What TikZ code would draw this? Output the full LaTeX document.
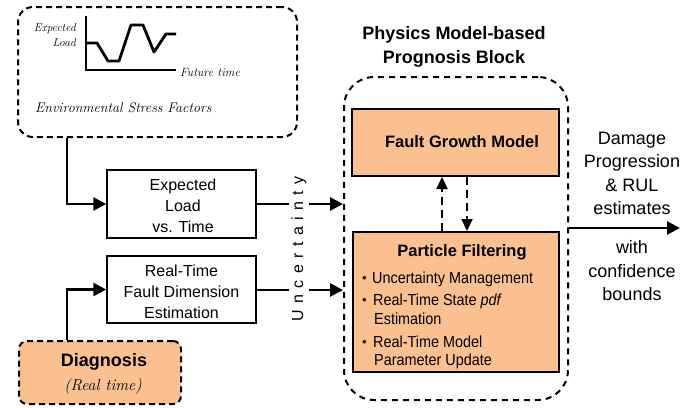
\documentclass[tikz,border=0pt]{standalone}
\usepackage{fontspec}
\setsansfont{Liberation Sans}
\newfontfamily\narrowsans[FakeStretch=0.9]{Liberation Sans}
\usetikzlibrary{arrows.meta}
\definecolor{boxorange}{RGB}{250,192,144}
\newcommand{\fs}[2]{\fontsize{#1}{#2}\selectfont}
\begin{document}
\begin{tikzpicture}[x=1pt,y=-1pt,
  every node/.style={font=\sffamily},
  plainbox/.style={draw, line width=1.5pt, inner sep=0pt},
  orangebox/.style={draw, line width=2pt, fill=boxorange, inner sep=0pt},
  dashbox/.style={draw, line width=2pt, dash pattern=on 6pt off 4pt, inner sep=0pt},
  arr/.style={line width=2.8pt, -{Triangle[length=13pt,width=13pt]}},
  darr/.style={line width=2.2pt, dash pattern=on 8pt off 5pt, -{Triangle[length=12pt,width=11pt]}},
  txt/.style={inner sep=0pt, align=center},
  bul/.style={anchor=base west, inner sep=0pt, font=\narrowsans\fs{16}{19}}
]
\useasboundingbox (0,0) rectangle (696,407);

% Environmental stress factors
\node[dashbox, rounded corners=15pt, minimum width=279pt, minimum height=130pt] (env) at (157.5,72) {};
\draw[line width=1.6pt] (86,16) -- (86,70) -- (176,70);
\draw[line width=2.8pt, line join=round] (86,43) -- (97,43) -- (108,61) -- (119,61) -- (131,25) -- (143,25) -- (154,52) -- (166,34) -- (176,34);
\node[anchor=east, inner sep=0pt, align=right, font=\rmfamily\itshape\fs{11.5}{15}] (eload) at (76,35) {Expected\\Load};
\node[anchor=west, inner sep=0pt, font=\rmfamily\itshape\fs{12}{14}] (ftime) at (180,72) {Future time};
\node[anchor=west, inner sep=0pt, font=\rmfamily\itshape\fs{14}{16}] (esf) at (35,108) {Environmental Stress Factors};

% Left boxes
\node[plainbox, minimum width=149pt, minimum height=68pt] (exp) at (181.5,204) {};
\node[txt, font=\sffamily\fs{16}{21}] (exptxt) at (183,206) {Expected\\Load\\vs. Time};
\node[plainbox, minimum width=149pt, minimum height=67pt] (rt) at (181.5,289.5) {};
\node[txt, font=\sffamily\fs{16}{21}] (rttxt) at (181.5,292) {Real-Time\\Fault Dimension\\Estimation};

% Diagnosis
\node[dashbox, fill=boxorange, rounded corners=8pt, minimum width=162pt, minimum height=63pt] (diag) at (100,372.5) {};
\node[txt, font=\sffamily\bfseries\fs{18}{20}] (diagt) at (104,362) {Diagnosis};
\node[txt, font=\rmfamily\itshape\fs{16}{18}] (diags) at (103,387) {(Real time)};

% Prognosis block
\node[txt, font=\sffamily\bfseries\fs{18}{24}] (ptitle) at (454,47) {Physics Model-based\\Prognosis Block};
\node[draw, line width=2pt, dash pattern=on 6pt off 5pt, rounded corners=30pt, minimum width=224pt, minimum height=323pt] (big) at (456,238.5) {};
\node[orangebox, minimum width=207pt, minimum height=67pt] (fgm) at (455.5,142.5) {};
\node[txt, font=\sffamily\bfseries\fs{16.5}{20}] (fgmt) at (462,142) {Fault Growth Model};
\node[orangebox, minimum width=206pt, minimum height=140pt] (pf) at (456,302) {};
\node[txt, font=\sffamily\bfseries\fs{16.5}{20}] (pft) at (462,252) {Particle Filtering};
\node[anchor=base west, inner sep=0pt, font=\sffamily\fs{13}{14}] (b1) at (362,282) {•};
\node[anchor=base west, inner sep=0pt, font=\sffamily\fs{13}{14}] (b2) at (362,304) {•};
\node[anchor=base west, inner sep=0pt, font=\sffamily\fs{13}{14}] (b3) at (362,346) {•};
\node[bul] (l1) at (372,283) {Uncertainty Management};
\node[bul] (l2) at (373,305) {Real-Time State \textit{pdf}};
\node[bul] (l3) at (374,324) {Estimation};
\node[bul] (l4) at (373,347) {Real-Time Model};
\node[bul] (l5) at (374,365) {Parameter Update};

% coordinates
\coordinate (tapx) at (67,0);
\coordinate (upx) at (442,0);
\coordinate (dnx) at (467,0);
\coordinate (outend) at (680,228);

% connectors
\draw[arr] (env.south -| tapx) |- (exp.west);
\draw[arr] (diag.north -| tapx) |- (rt.west);
\draw[arr] (exp.east) -- (exp.east -| big.west);
\draw[arr] (rt.east |- 0,290) -- (big.west |- 0,290);
\draw[darr] (pf.north -| upx) -- (fgm.south -| upx);
\draw[darr] (fgm.south -| dnx) -- (pf.north -| dnx);
\draw[arr] (big.east |- outend) -- (outend);

% Uncertainty label
\def\ls{\hspace{6.4pt}}
\node[rotate=90, fill=white, inner sep=3pt, font=\sffamily\fs{16}{18}] (unc) at (299,249) {U\ls n\ls c\ls e\ls r\ls t\ls a\ls i\ls n\ls t\ls y};

% Output texts
\node[txt, font=\sffamily\fs{18}{23.5}] (dmg) at (632,173.5) {Damage\\Progression\\\& RUL\\estimates};
\node[txt, font=\sffamily\fs{18}{23.5}] (conf) at (632,271) {with\\confidence\\bounds};
\end{tikzpicture}
\end{document}
